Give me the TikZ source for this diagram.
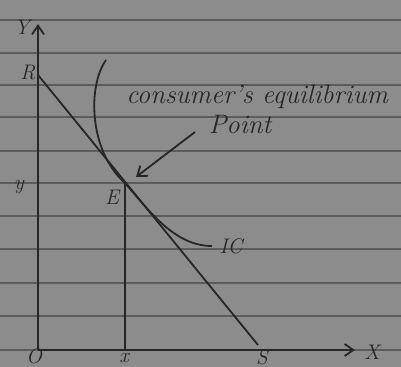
\documentclass[tikz,border=0pt]{standalone}
\usetikzlibrary{arrows.meta}
\definecolor{paper}{RGB}{140,140,140}
\definecolor{rule}{RGB}{92,92,92}
\definecolor{ink}{RGB}{38,38,38}
\begin{document}
\begin{tikzpicture}[x=0.25mm,y=-0.25mm,
  inkline/.style={draw=ink,line width=0.45mm},
  lab/.style={text=ink,font=\fontsize{15}{17}\selectfont\itshape,inner sep=0pt},
  note/.style={text=ink,font=\fontsize{19}{21}\selectfont\itshape,inner sep=0pt}]
\fill[paper] (0,0) rectangle (401,367);
\useasboundingbox (0,0) rectangle (401,367);
% notebook rules
\foreach \yy in {20,53,85,117,151,183,216,249,283,316,350}
  \draw[rule,line width=0.45mm] (0,\yy) -- (401,\yy);
% points
\coordinate (O) at (38,350);
\coordinate (Ytop) at (38,24);
\coordinate (Xend) at (355,350);
\coordinate (Rp) at (38,75);
\coordinate (Sp) at (258,345);
\coordinate (Ep) at (125,183);
\coordinate (Xp) at (125,350);
\coordinate (ICs) at (106,60);
\coordinate (ICe) at (212,246);
\coordinate (As) at (195,132);
\coordinate (Ae) at (136,177);
% axes
\draw[inkline,-{Straight Barb[length=2.2mm,width=3mm]}] (O) -- (Ytop);
\draw[inkline,-{Straight Barb[length=2.2mm,width=3mm]}] (O) -- (Xend);
% budget line
\draw[inkline] (Rp) -- (Sp);
% vertical from E
\draw[inkline] (Ep) -- (Xp);
% IC curve
\draw[inkline] (ICs) .. controls (88,85) and (88,150) .. (Ep)
  .. controls (150,212) and (175,246) .. (ICe);
% arrow
\draw[inkline,-{Straight Barb[length=2.2mm,width=3.2mm]}] (As) -- (Ae);
% labels
\node[lab] (lY) at (22,27) {Y};
\node[lab] (lX) at (372,352) {X};
\node[lab] (lR) at (28,73) {R};
\node[lab] (lS) at (262,357) {S};
\node[lab] (ly) at (19,187) {y};
\node[lab] (lE) at (112,197) {E};
\node[lab] (lO) at (34,356) {O};
\node[lab] (lx) at (124,358) {x};
\node[lab] (lIC) at (231,246) {IC};
\node[note,anchor=west] (t1) at (126,97) {consumer's equilibrium};
\node[note] (t2) at (240,125) {Point};
\end{tikzpicture}
\end{document}
